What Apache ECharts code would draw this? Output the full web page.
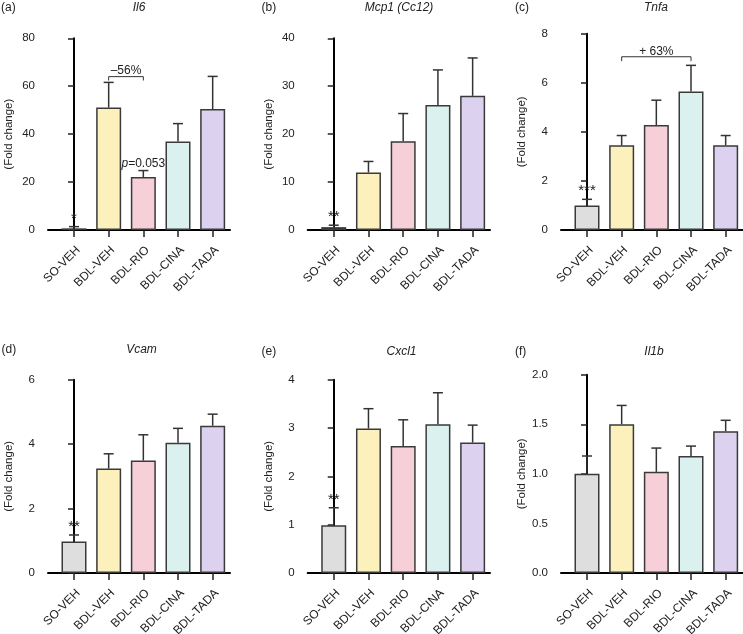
<!DOCTYPE html>
<html><head><meta charset="utf-8">
<script src="https://cdn.jsdelivr.net/npm/echarts@6/dist/echarts.min.js"></script>
<style>html,body{margin:0;padding:0;background:#fff}#c{width:743px;height:634px}</style>
</head><body><div id="c"></div>
<script>
// ---- data ----
const categories = ['SO-VEH', 'BDL-VEH', 'BDL-RIO', 'BDL-CINA', 'BDL-TADA'];

const il6Mean   = [0.7, 51.1, 22.1, 36.9, 50.5];
const il6Top    = [1.4, 61.6, 24.8, 44.4, 64.1];
const il6Sig    = ['*', '', '', '', ''];
const il6Note   = ['', '', 'p=0.053', '', ''];

const mcp1Mean  = [0.6, 12.0, 18.5, 26.1, 28.0];
const mcp1Top   = [1.0, 14.3, 24.3, 33.4, 35.9];
const mcp1Sig   = ['**', '', '', '', ''];

const tnfaMean  = [1.0, 3.45, 4.28, 5.64, 3.45];
const tnfaTop   = [1.25, 3.85, 5.29, 6.71, 3.85];
const tnfaSig   = ['***', '', '', '', ''];

const vcamMean  = [0.98, 3.24, 3.49, 4.04, 4.57];
const vcamTop   = [1.18, 3.70, 4.29, 4.49, 4.93];
const vcamSig   = ['**', '', '', '', ''];

const cxcl1Mean = [0.99, 2.99, 2.63, 3.08, 2.70];
const cxcl1Top  = [1.35, 3.40, 3.17, 3.73, 3.06];
const cxcl1Sig  = ['**', '', '', '', ''];

const il1bMean  = [1.00, 1.50, 1.02, 1.18, 1.43];
const il1bTop   = [1.18, 1.69, 1.26, 1.28, 1.54];
const il1bSig   = ['', '', '', '', ''];

// brackets: [fromIndex, toIndex, lineValue, endValue]
const il6Bracket  = [1, 2, 64.0, 62.4];
const il6BracketText = '\u201356%';
const tnfaBracket = [1, 3, 7.06, 6.88];
const tnfaBracketText = '+ 63%';

// y-axis ticks [min, max, interval]
const il6Ticks  = [0, 80, 20];
const mcp1Ticks = [0, 40, 10];
const tnfaTicks = [0, 8, 2];
const vcamTicks = [0, 6, 2];
const cxcl1Ticks = [0, 4, 1];
const il1bTicks = [0, 2, 0.5];

// ---- styles / layout ----
const FONT = '"Liberation Sans", Arial, Helvetica, sans-serif';
const barColors = ['#dedede', '#fcf1bd', '#f6cfd8', '#dbf1ef', '#dcd2f0'];
const INK = '#222';

const panels = [
  {letter:'(a)', gene:'Il6', mean:il6Mean, top:il6Top, sig:il6Sig, note:il6Note, ticks:il6Ticks, dec:0,
   grid:{left:48, top:38.3, width:182, height:191.7}, letterX:1, letterY:2, geneX:139, geneY:2,
   bracket:il6Bracket, bracketText:il6BracketText},
  {letter:'(b)', gene:'Mcp1 (Cc12)', mean:mcp1Mean, top:mcp1Top, sig:mcp1Sig, ticks:mcp1Ticks, dec:0,
   grid:{left:307.7, top:38.3, width:182.3, height:191.7}, letterX:261.5, letterY:2, geneX:399, geneY:2},
  {letter:'(c)', gene:'Tnfa', mean:tnfaMean, top:tnfaTop, sig:tnfaSig, ticks:tnfaTicks, dec:0,
   grid:{left:561, top:33.7, width:182, height:196.3}, letterX:515, letterY:2, geneX:656, geneY:2,
   bracket:tnfaBracket, bracketText:tnfaBracketText},
  {letter:'(d)', gene:'Vcam', mean:vcamMean, top:vcamTop, sig:vcamSig, ticks:vcamTicks, dec:0,
   grid:{left:48, top:379.7, width:182, height:193.3}, letterX:1.5, letterY:344, geneX:141.5, geneY:344},
  {letter:'(e)', gene:'Cxcl1', mean:cxcl1Mean, top:cxcl1Top, sig:cxcl1Sig, ticks:cxcl1Ticks, dec:0,
   grid:{left:307.7, top:379.7, width:182.3, height:193.3}, letterX:261.5, letterY:346, geneX:401.5, geneY:346},
  {letter:'(f)', gene:'Il1b', mean:il1bMean, top:il1bTop, sig:il1bSig, ticks:il1bTicks, dec:1,
   grid:{left:561, top:374.7, width:182, height:198.3}, letterX:515, letterY:346, geneX:654, geneY:346}
];

function errRender(p) {
  return function (params, api) {
    const x = api.value(0), m = api.value(1), t = api.value(2);
    const p0 = api.coord([x, m]), p1 = api.coord([x, t]);
    const ch = [
      {type:'line', shape:{x1:p0[0], y1:p0[1], x2:p1[0], y2:p1[1]}, style:{stroke:'#333', lineWidth:1.5}},
      {type:'line', shape:{x1:p1[0]-5, y1:p1[1], x2:p1[0]+5, y2:p1[1]}, style:{stroke:'#333', lineWidth:1.5}}
    ];
    const s = p.sig[params.dataIndex];
    if (s) ch.push({type:'text', x:p1[0], y:p1[1]-0.5, style:{text:s, fontSize:15, fill:INK, align:'center', verticalAlign:'bottom', fontFamily:FONT}});
    const n = p.note ? p.note[params.dataIndex] : '';
    if (n) {
      const rest = n.slice(1);
      ch.push({type:'text', x:p1[0], y:p1[1]-0.5, style:{text:'{i|' + n[0] + '}' + rest, fontSize:12, fill:INK, align:'center', verticalAlign:'bottom', fontFamily:FONT,
        rich:{i:{fontStyle:'italic', fontSize:12, fontFamily:FONT, fill:INK}}}});
    }
    return {type:'group', children:ch};
  };
}

function bracketRender(p) {
  return function (params, api) {
    const a = api.coord([api.value(0), api.value(2)]);
    const b = api.coord([api.value(1), api.value(2)]);
    const e = api.coord([api.value(0), api.value(3)]);
    const st = {stroke:'#333', lineWidth:1};
    return {type:'group', children:[
      {type:'polyline', shape:{points:[[a[0], e[1]], a, b, [b[0], e[1]]]}, style:Object.assign({fill:null}, st)},
      {type:'text', x:(a[0]+b[0])/2, y:a[1]+0.5, style:{text:p.bracketText, fontSize:12, fill:INK, align:'center', verticalAlign:'bottom', fontFamily:FONT}}
    ]};
  };
}

const option = {
  animation:false,
  backgroundColor:'#fff',
  textStyle:{fontFamily:FONT},
  title:[], grid:[], xAxis:[], yAxis:[], series:[]
};

panels.forEach((p, i) => {
  option.title.push({text:p.letter, left:p.letterX, top:p.letterY, padding:0,
    textStyle:{fontSize:12, fontWeight:'normal', color:INK, fontFamily:FONT}});
  option.title.push({text:p.gene, left:p.geneX, top:p.geneY, padding:0, textAlign:'center',
    textStyle:{fontSize:12, fontWeight:'normal', fontStyle:'italic', color:INK, fontFamily:FONT}});
  option.grid.push(Object.assign({containLabel:false, outerBoundsMode:'none'}, p.grid));
  option.xAxis.push({type:'value', gridIndex:i, min:-0.75, max:4.5,
    axisLine:{show:true, onZero:false, lineStyle:{color:'#000', width:2}},
    axisTick:{show:true, customValues:[0,1,2,3,4], length:7, lineStyle:{color:'#222', width:1.5}},
    axisLabel:{show:true, customValues:[0,1,2,3,4], formatter:v => categories[Math.round(v)], rotate:45, margin:14,
      verticalAlign:'top', fontSize:12, color:INK, fontFamily:FONT},
    splitLine:{show:false}});
  option.yAxis.push({type:'value', gridIndex:i, min:p.ticks[0], max:p.ticks[1], interval:p.ticks[2],
    axisLine:{show:true, lineStyle:{color:'#000', width:2}},
    axisTick:{show:true, length:6, lineStyle:{color:'#222', width:1.5}},
    axisLabel:{fontSize:11.5, color:INK, margin:13, fontFamily:FONT, formatter:v => v.toFixed(p.dec)},
    splitLine:{show:false},
    name:'(Fold change)', nameLocation:'middle', nameGap:33,
    nameTextStyle:{fontSize:11.5, color:INK, fontFamily:FONT}});
  option.series.push({type:'bar', xAxisIndex:i, yAxisIndex:i, barWidth:25,
    data:p.mean.map((v, j) => ({value:[j, v], itemStyle:{color:barColors[j]}})),
    itemStyle:{borderColor:'#3a3a3a', borderWidth:1.5}});
  option.series.push({type:'custom', xAxisIndex:i, yAxisIndex:i, clip:false, z:5,
    renderItem:errRender(p), data:p.mean.map((v, j) => [j, v, p.top[j]])});
  if (p.bracket) {
    option.series.push({type:'custom', xAxisIndex:i, yAxisIndex:i, clip:false, z:5,
      renderItem:bracketRender(p), data:[p.bracket]});
  }
});

const chart = echarts.init(document.getElementById('c'), null, {renderer:'canvas'});
chart.setOption(option);
</script>
</body></html>
